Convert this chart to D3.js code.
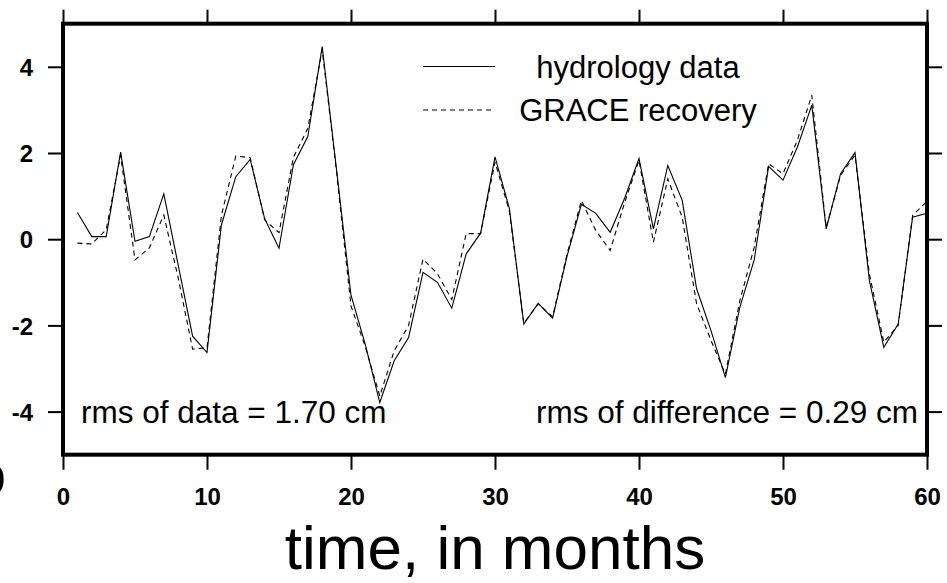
<!DOCTYPE html>
<html>
<head>
<meta charset="utf-8">
<script src="https://cdn.jsdelivr.net/npm/d3@7"></script>
<style>
  html, body { margin: 0; padding: 0; background: #fff; }
  svg { display: block; font-family: "Liberation Sans", Arial, Helvetica, sans-serif; }
</style>
</head>
<body>
<svg id="chart" width="947" height="583"></svg>
<script>
// ---------- data ----------
const months = [1,2,3,4,5,6,7,8,9,10,11,12,13,14,15,16,17,18,19,20,
  21,22,23,24,25,26,27,28,29,30,31,32,33,34,35,36,37,38,39,40,
  41,42,43,44,45,46,47,48,49,50,51,52,53,54,55,56,57,58,59,60];
const hydrology = [0.62,0.06,0.06,2.02,-0.05,0.06,1.05,-0.6,-2.25,-2.63,
  0.33,1.45,1.85,0.48,-0.21,1.73,2.38,4.47,1.6,-1.3,
  -2.45,-3.79,-2.82,-2.28,-0.77,-1.0,-1.6,-0.34,0.14,1.91,
  0.71,-1.97,-1.49,-1.83,-0.4,0.81,0.6,0.16,0.95,1.87,
  0.24,1.71,0.9,-1.15,-2.12,-3.21,-1.58,-0.48,1.69,1.37,
  2.14,3.11,0.24,1.52,2.01,-0.96,-2.51,-1.97,0.51,0.6];
const grace = [-0.09,-0.11,0.22,1.95,-0.48,-0.2,0.56,-0.9,-2.55,-2.52,
  0.55,1.93,1.89,0.45,0.15,1.9,2.57,4.4,1.55,-1.55,
  -2.5,-3.64,-2.59,-2.0,-0.46,-0.8,-1.4,0.13,0.13,1.79,
  0.65,-1.95,-1.5,-1.8,-0.35,0.9,0.2,-0.26,0.85,1.83,
  -0.07,1.4,0.51,-1.5,-2.35,-3.13,-1.43,-0.19,1.75,1.52,
  2.3,3.34,0.27,1.48,1.95,-0.81,-2.39,-2.0,0.55,0.88];
const xTicks = [0,10,20,30,40,50,60];
const yTicks = [-4,-2,0,2,4];
const yTickLabels = ["-4","-2","0","2","4"];
const legendLabels = ["hydrology data", "GRACE recovery"];
const rmsLabels = ["rms of data = 1.70 cm", "rms of difference = 0.29 cm"];
const xTitle = "time, in months";

// ---------- layout ----------
const L = 63, R = 927, T = 23.7, B = 454.7;
const svg = d3.select("#chart");
const x = d3.scaleLinear().domain([0, 60]).range([L, R]);
const y = d3.scaleLinear().domain([-5, 5]).range([B, T]);

// axes
function styleAxis(g) {
  g.select(".domain").remove();
  g.selectAll(".tick line").attr("stroke", "#000").attr("stroke-width", 2);
}
svg.append("g").attr("transform", `translate(0,${B})`)
  .call(d3.axisBottom(x).tickValues(xTicks).tickSize(15).tickFormat(d => String(d)))
  .call(styleAxis)
  .call(g => g.selectAll(".tick text")
    .attr("y", 50.5).attr("dy", 0)
    .attr("font-size", 24).attr("font-weight", "bold")
    .attr("font-family", "Liberation Sans, Arial, sans-serif").attr("fill", "#000"));
svg.append("g").attr("transform", `translate(0,${T})`)
  .call(d3.axisTop(x).tickValues(xTicks).tickSize(14).tickFormat(""))
  .call(styleAxis);
svg.append("g").attr("transform", `translate(${L},0)`)
  .call(d3.axisLeft(y).tickValues(yTicks).tickSize(15)
    .tickFormat(d => yTickLabels[yTicks.indexOf(d)]))
  .call(styleAxis)
  .call(g => g.selectAll(".tick text")
    .attr("x", -30).attr("dy", "0.36em")
    .attr("font-size", 24).attr("font-weight", "bold")
    .attr("font-family", "Liberation Sans, Arial, sans-serif").attr("fill", "#000"));
svg.append("g").attr("transform", `translate(${R},0)`)
  .call(d3.axisRight(y).tickValues(yTicks).tickSize(15).tickFormat(""))
  .call(styleAxis);

// lines
const line = d3.line().x((d, i) => x(months[i])).y(d => y(d));
svg.append("path").datum(hydrology).attr("d", line)
  .attr("fill", "none").attr("stroke", "#000").attr("stroke-width", 1.1);
svg.append("path").datum(grace).attr("d", line)
  .attr("fill", "none").attr("stroke", "#000").attr("stroke-width", 1.1)
  .attr("stroke-dasharray", "5,4");

// frame
svg.append("rect").attr("x", L).attr("y", T).attr("width", R - L).attr("height", B - T)
  .attr("fill", "none").attr("stroke", "#000").attr("stroke-width", 4);

// legend
const legendY = [66.5, 110];
const legendBase = [77.5, 121];
svg.append("line").attr("x1", 423).attr("x2", 495).attr("y1", legendY[0]).attr("y2", legendY[0])
  .attr("stroke", "#000").attr("stroke-width", 1.1);
svg.append("line").attr("x1", 423).attr("x2", 495).attr("y1", legendY[1]).attr("y2", legendY[1])
  .attr("stroke", "#000").attr("stroke-width", 1.1).attr("stroke-dasharray", "5,4");
legendLabels.forEach((t, i) => {
  svg.append("text").attr("x", 638).attr("y", legendBase[i]).attr("text-anchor", "middle")
    .attr("font-size", 31).attr("fill", "#000").text(t);
});

// rms annotations
svg.append("text").attr("x", 81).attr("y", 423).attr("font-size", 31.5).attr("fill", "#000").text(rmsLabels[0]);
svg.append("text").attr("x", 918).attr("y", 423).attr("text-anchor", "end").attr("font-size", 31.5).attr("fill", "#000").text(rmsLabels[1]);

// x-axis title
svg.append("text").attr("x", (L + R) / 2).attr("y", 569).attr("text-anchor", "middle")
  .attr("font-size", 62).attr("fill", "#000").text(xTitle);

// clipped panel label at far left edge (only its right edge is visible, as in the reference)
svg.append("text").attr("x", 6).attr("y", 494).attr("text-anchor", "end")
  .attr("font-size", 56).attr("font-weight", "bold").attr("fill", "#000").text("b");
</script>
</body>
</html>
